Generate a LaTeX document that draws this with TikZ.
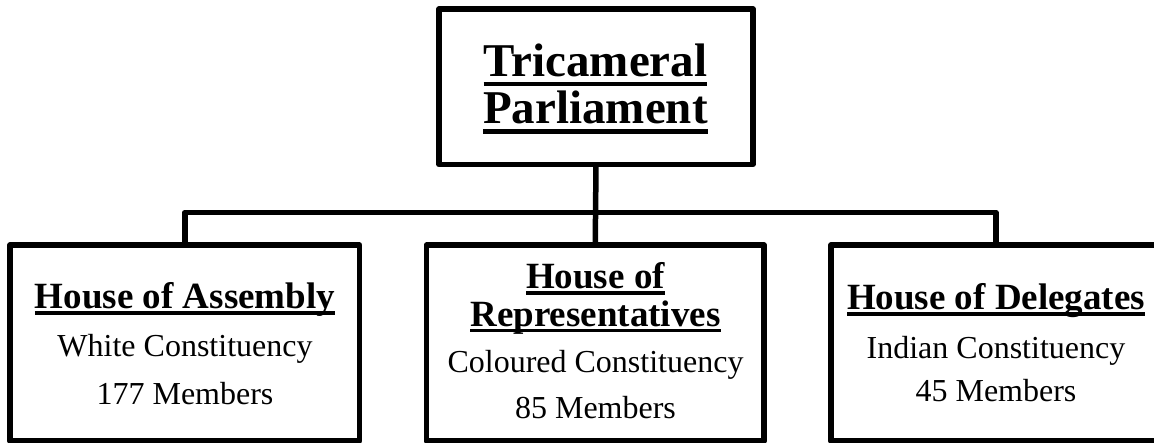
\documentclass[tikz,border=0pt]{standalone}
\usepackage{fontspec}
\setmainfont{Liberation Serif}

% text with a solid rule drawn under it: #1 gap below baseline, #2 rule thickness
\newcommand\ulrule[3]{\setbox0\hbox{#3}\rlap{\rule[-\dimexpr#1+#2\relax]{\wd0}{#2}}\box0}

\begin{document}
\begin{tikzpicture}[x=1pt,y=-1pt,
  frame/.style={draw=black,line width=5.5pt,rectangle,inner sep=0pt,outer sep=0pt,line join=round},
  link/.style={draw=black,line width=5.5pt,line join=round},
  titletext/.style={anchor=base,inner sep=0pt,font=\fontsize{47}{50}\selectfont\bfseries},
  headtext/.style={anchor=base,inner sep=0pt,font=\fontsize{37}{40}\selectfont\bfseries},
  bodytext/.style={anchor=base,inner sep=0pt,font=\fontsize{32}{35}\selectfont}]
\useasboundingbox (0,0) rectangle (1154,442);

% boxes
\node[frame,minimum width=314pt,minimum height=155.5pt] (parl) at (596,86.75) {};
\node[frame,minimum width=349.5pt,minimum height=196pt] (assembly) at (184.75,343) {};
\node[frame,minimum width=337.5pt,minimum height=196pt] (reps) at (595.25,343) {};
\node[frame,minimum width=330pt,minimum height=196pt] (delegates) at (996,343) {};

% connectors
\coordinate (hub) at (596,212.5);
\draw[link] (parl.south) -- (reps.north);
\draw[link] (assembly.north) |- (hub) -| (delegates.north);

% title
\node[titletext] (t1) at (595.5,76) {\ulrule{5.8pt}{4.2pt}{Tricameral}};
\node[titletext] (t2) at (595.5,123.5) {\ulrule{5.8pt}{4.2pt}{Parliament}};

% House of Assembly
\node[headtext] (a1) at (185,308.3) {\ulrule{2.6pt}{4pt}{House of Assembly}};
\node[bodytext] (a2) at (185,356.7) {White Constituency};
\node[bodytext] (a3) at (185,404.3) {177 Members};

% House of Representatives
\node[headtext] (r1) at (595.5,288.3) {\ulrule{2.8pt}{3.8pt}{House of}};
\node[headtext] (r2) at (595.5,326) {\ulrule{2.6pt}{3.8pt}{Representatives}};
\node[bodytext] (r3) at (595.5,372.7) {Coloured Constituency};
\node[bodytext] (r4) at (595.5,418.3) {85 Members};

% House of Delegates
\node[headtext] (d1) at (996,309.3) {\ulrule{2.6pt}{4pt}{House of Delegates}};
\node[bodytext] (d2) at (996,358.3) {Indian Constituency};
\node[bodytext] (d3) at (996,401.7) {45 Members};
\end{tikzpicture}
\end{document}
